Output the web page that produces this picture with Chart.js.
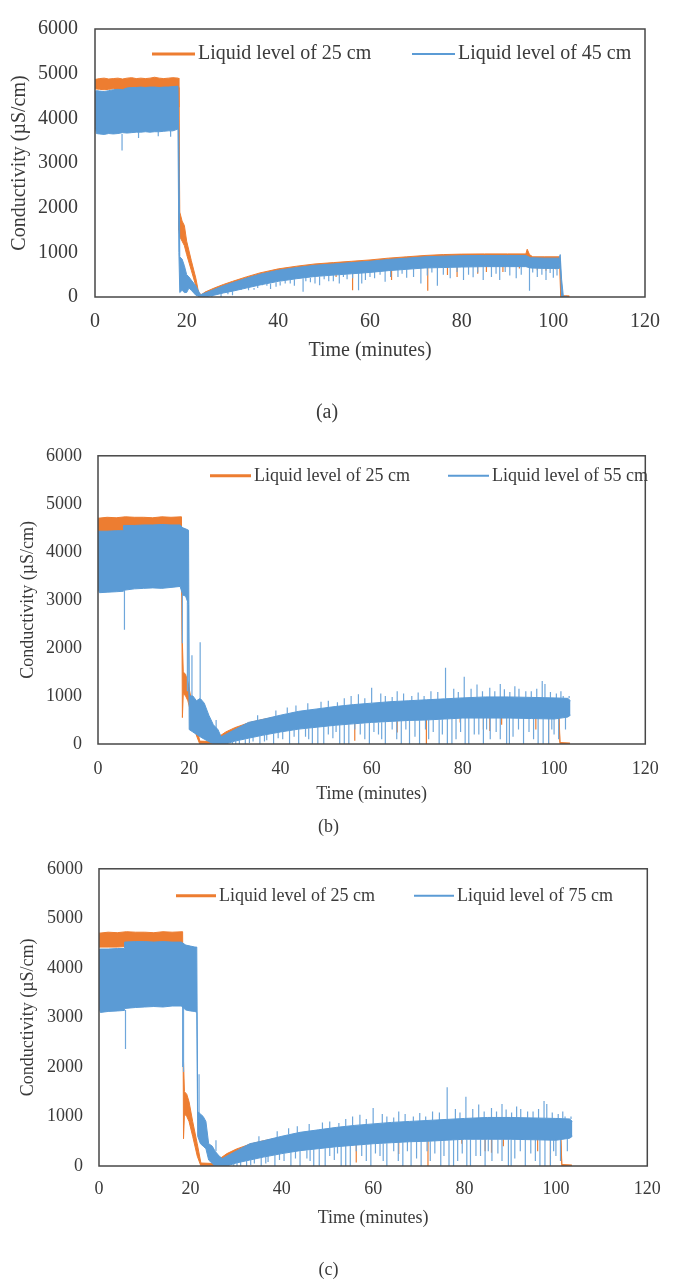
<!DOCTYPE html>
<html>
<head>
<meta charset="utf-8">
<title>Conductivity vs time</title>
<script src="https://cdn.jsdelivr.net/npm/chart.js"></script>
<style>
  html, body { margin: 0; padding: 0; background: #fff; overflow: hidden; }
  .panel { position: absolute; left: 0; width: 673px; }
</style>
</head>
<body>
<div class="panel" style="top:0;height:429px"><canvas id="chartA"></canvas></div>
<div class="panel" style="top:429px;height:413px"><canvas id="chartB"></canvas></div>
<div class="panel" style="top:842px;height:439px"><canvas id="chartC"></canvas></div>
<script>
// ---- (a) 25 cm vs 45 cm : band envelopes (minutes, uS/cm)
const aTime25 = [0, 1, 2, 3, 4, 5, 6, 7, 8, 9, 10, 11, 12, 13, 14, 15, 16, 17, 18.2, 18.3, 18.5, 19.0, 19.5, 20.0, 21.0, 22.0, 22.6, 23.2, 24, 26, 28, 30, 33, 36, 40, 44, 48, 52, 56, 60, 64, 68, 72, 76, 80, 85, 90, 94, 94.3, 94.8, 95.5, 98, 101.4, 101.6, 103.5];
const aHigh25 = [4870, 4890, 4900, 4880, 4890, 4900, 4880, 4900, 4910, 4890, 4900, 4890, 4900, 4920, 4900, 4890, 4900, 4910, 4900, 4250, 1900, 1700, 1600, 1250, 820, 420, 100, 50, 110, 200, 280, 350, 450, 540, 630, 690, 740, 770, 800, 830, 870, 900, 930, 950, 960, 965, 965, 965, 1070, 950, 900, 900, 900, 30, 25];
const aLow25 = [4660, 4650, 4640, 4650, 4660, 4640, 4620, 4650, 4660, 4670, 4660, 4670, 4680, 4670, 4680, 4670, 4680, 4690, 4690, 1500, 1350, 1250, 1150, 950, 600, 250, 0, 0, 40, 130, 210, 280, 370, 450, 530, 590, 640, 680, 710, 740, 780, 810, 840, 860, 870, 880, 880, 880, 880, 870, 830, 830, 830, 0, 0];
const aSpikeTime25 = [44.5, 52.6, 56.2, 64.7, 72.6, 76.9, 79.0, 83.5, 85.4, 89.0, 92.6, 96.5, 98.4, 100.5];
const aSpikeFrom25 = [590, 680, 710, 780, 840, 860, 870, 880, 880, 880, 880, 830, 830, 830];
const aSpikeTo25 = [420, 450, 150, 380, 140, 490, 450, 520, 560, 560, 640, 600, 590, 620];

const aTime45 = [0, 0.3, 1, 2, 3, 4, 5, 6, 7, 8, 9, 10, 11, 12, 13, 14, 15, 16, 17, 18.1, 18.3, 18.5, 19.0, 19.5, 20.0, 20.5, 21.0, 22.0, 23.0, 24, 26, 28, 30, 33, 36, 40, 44, 48, 52, 56, 60, 64, 68, 72, 76, 80, 85, 90, 94, 95, 98, 101.3, 101.5, 101.8, 102.2, 103];
const aHigh45 = [4600, 4620, 4610, 4600, 4620, 4640, 4650, 4640, 4680, 4690, 4690, 4700, 4690, 4700, 4700, 4690, 4700, 4700, 4710, 4720, 3500, 900, 850, 700, 500, 450, 380, 250, 50, 90, 170, 250, 320, 420, 510, 600, 660, 710, 740, 770, 800, 840, 870, 900, 915, 925, 930, 930, 930, 880, 870, 870, 950, 400, 0, 20];
const aLow45 = [3850, 3660, 3650, 3640, 3660, 3650, 3660, 3680, 3670, 3680, 3690, 3690, 3700, 3690, 3700, 3700, 3710, 3720, 3720, 3760, 1000, 100, 150, 100, 100, 200, 150, 40, 0, 0, 40, 90, 130, 200, 270, 350, 410, 460, 490, 520, 550, 590, 620, 650, 660, 670, 680, 680, 680, 650, 640, 640, 800, 0, 0, 0];
const aSpikeTime45 = [5.9, 9.5, 13.8, 16.5, 27.5, 30.0, 31.9, 34.7, 36.5, 38.3, 40.4, 42.6, 45.4, 47.0, 49.0, 51.0, 53.3, 55.0, 57.5, 59.0, 61.0, 63.3, 66.1, 68.0, 71.1, 72.5, 74.7, 77.5, 80.4, 82.5, 84.7, 86.5, 88.3, 90.5, 91.9, 94.8, 96.5, 98.4, 100.0,
  25.5, 29.0, 33.5, 35.5, 37.5, 39.5, 41.5, 43.5, 46.0, 48.0, 50.0, 52.0, 54.2, 56.2, 58.2, 60.0, 62.2, 64.5, 67.0, 69.5, 73.5, 76.0, 79.0, 81.5, 83.5, 87.5, 89.5, 93.0, 95.5, 97.5, 99.3, 100.8];
const aSpikeFrom45 = [3650, 3690, 3700, 3720, 80, 130, 160, 200, 260, 300, 340, 380, 420, 430, 460, 480, 500, 510, 530, 550, 570, 590, 610, 630, 650, 650, 660, 660, 670, 670, 680, 680, 680, 680, 680, 680, 640, 640, 640,
  20, 110, 205, 250, 300, 330, 370, 400, 440, 460, 475, 490, 510, 520, 540, 550, 570, 590, 615, 630, 655, 660, 670, 675, 680, 680, 680, 680, 650, 640, 640, 640];
const aSpikeTo45 = [3280, 3560, 3600, 3590, 0, 40, 190, 160, 250, 180, 260, 300, 116, 330, 263, 350, 300, 400, 153, 380, 420, 340, 450, 430, 300, 480, 250, 420, 380, 440, 380, 450, 380, 480, 420, 140, 450, 380, 430,
  0, 60, 150, 200, 250, 230, 300, 250, 350, 300, 400, 350, 450, 420, 300, 450, 500, 450, 520, 450, 550, 500, 560, 500, 550, 520, 560, 500, 550, 500, 540, 480];

// ---- (b) and (c): the 25 cm run is the same in both panels
const bcTime25 = [0, 2, 4, 6, 8, 10, 12, 14, 16, 18.3, 18.5, 18.7, 19.2, 19.7, 20.5, 21.5, 22.3, 25.2, 26, 28, 30, 33, 36, 40, 44, 48, 52, 56, 60, 64, 68, 72, 76, 80, 85, 90, 95, 100, 101, 101.3, 103.5];
const bcHigh25 = [4700, 4720, 4710, 4730, 4720, 4720, 4710, 4730, 4720, 4730, 2100, 1500, 1450, 1300, 900, 450, 60, 50, 120, 250, 340, 440, 510, 580, 640, 690, 730, 760, 790, 810, 830, 850, 860, 870, 870, 870, 860, 850, 850, 30, 20];
const bcLow25 = [4420, 4420, 4420, 4430, 4430, 4430, 4430, 4430, 4430, 4430, 550, 1050, 1000, 900, 600, 200, 0, 0, 40, 120, 200, 290, 360, 430, 480, 520, 550, 570, 590, 600, 610, 620, 630, 640, 640, 640, 630, 620, 620, 0, 0];
const bcSpikeTime25 = [43.4, 56.3, 65.6, 72.0, 79.4, 84.5, 85.9, 88.5, 96.0, 98.8];
const bcSpikeFrom25 = [480, 570, 600, 620, 640, 640, 640, 640, 630, 620];
const bcSpikeTo25 = [380, 70, 240, 0, 450, 300, 270, 400, 300, 0];

// start of the 55 cm run (b) and the 75 cm run (c)
const bHeadTime55 = [0, 0.3, 2, 4, 5.5, 5.6, 8, 10, 12, 14, 16, 18.0, 18.6, 19.2, 19.85, 20.0, 20.8, 21.6, 22.4, 23.3, 24.3, 25.3, 26.3];
const bHeadHigh55 = [4420, 4430, 4430, 4440, 4440, 4550, 4550, 4560, 4560, 4570, 4560, 4560, 4500, 4480, 4450, 1000, 1000, 900, 950, 850, 600, 400, 300];
const bHeadLow55 = [3250, 3150, 3160, 3170, 3180, 3200, 3230, 3240, 3250, 3240, 3260, 3280, 3100, 3080, 2900, 300, 250, 200, 150, 100, 50, 0, 0];
const bHeadSpikeTime55 = [5.8, 18.5, 19.6, 20.6, 22.4, 25.9];
const bHeadSpikeFrom55 = [3200, 3100, 2950, 1000, 950, 300];
const bHeadSpikeTo55 = [2380, 2100, 1100, 1850, 2120, 500];

const cHeadTime75 = [0, 0.3, 2, 4, 5.5, 5.6, 8, 10, 12, 14, 16, 18.0, 19.0, 20.0, 21.0, 21.4, 21.6, 22.2, 22.8, 23.4, 24.0, 24.8, 25.4, 26.3];
const cHeadHigh75 = [4370, 4380, 4380, 4390, 4390, 4520, 4530, 4530, 4520, 4530, 4520, 4520, 4460, 4440, 4420, 4420, 1100, 1050, 1000, 900, 450, 400, 300, 200];
const cHeadLow75 = [3200, 3100, 3120, 3130, 3140, 3180, 3200, 3210, 3220, 3210, 3230, 3230, 3150, 3130, 3120, 3100, 600, 450, 400, 350, 120, 50, 0, 0];
const cHeadSpikeTime75 = [5.8, 18.3, 18.5, 21.9, 25.6];
const cHeadSpikeFrom75 = [3150, 3230, 3230, 1000, 300];
const cHeadSpikeTo75 = [2360, 2000, 1900, 1850, 520];

// rest of the deeper run, shared by (b) and (c)
const bcTailTime = [27.0, 28, 30, 33, 36, 40, 44, 48, 52, 56, 60, 64, 68, 72, 76, 80, 85, 90, 95, 100, 103, 103.6];
const bcTailHigh = [150, 200, 300, 450, 510, 600, 680, 730, 780, 820, 850, 880, 900, 920, 940, 960, 980, 980, 970, 960, 950, 900];
const bcTailLow = [0, 0, 60, 120, 180, 250, 310, 350, 390, 420, 450, 470, 490, 500, 520, 540, 540, 540, 530, 520, 560, 600];
const bcTailSpikeTime = [43.4, 48.9, 54.0, 57.1, 60.0, 63.0, 65.6, 70.2, 73.0, 76.2, 78.0, 80.3, 83.1, 85.9, 89.1, 91.4, 92.3, 95.0, 97.4, 98.0, 100.5, 102.0,
  35.0, 39.0, 41.5, 46.0, 50.5, 52.5, 55.5, 58.5, 62.0, 64.5, 67.0, 68.8, 71.5, 74.5, 79.0, 81.8, 84.3, 87.0, 88.2, 90.3, 93.8, 96.2, 99.2, 101.5, 103.3,
  29.5, 31.0, 32.3, 34.0, 35.5, 37.0, 38.5, 40.5, 42.0, 44.0, 45.5, 47.0, 49.5, 51.5, 53.0, 55.0, 58.5, 61.5, 63.0, 66.5, 68.3, 69.5, 73.5, 74.8, 76.6, 77.6, 81.3, 82.5, 84.5, 86.0, 87.3, 89.6, 91.0, 93.3, 94.5, 96.5, 98.8, 100.0,
  30.2, 33.2, 36.5, 39.5, 43.0, 46.2, 48.2, 50.5, 52.2, 54.0, 56.3, 57.5, 59.5, 60.5, 62.2, 64.5, 65.5, 67.5, 70.5, 71.8, 72.5, 75.5, 78.5, 79.5, 80.5, 83.5, 85.2, 88.2, 90.2, 92.2, 95.5, 97.6, 99.5, 101.0, 102.5];
const bcTailSpikeFrom = [670, 740, 800, 830, 850, 870, 890, 910, 925, 940, 950, 960, 970, 980, 980, 980, 975, 970, 965, 965, 960, 955,
  480, 560, 640, 700, 760, 780, 815, 835, 865, 880, 895, 900, 915, 930, 955, 962, 975, 980, 980, 980, 975, 968, 962, 958, 950,
  40, 80, 100, 140, 170, 200, 220, 250, 280, 310, 320, 340, 360, 380, 400, 410, 430, 450, 460, 480, 490, 495, 505, 510, 520, 525, 540, 540, 540, 540, 540, 540, 540, 535, 535, 530, 525, 520,
  60, 120, 185, 240, 300, 330, 350, 370, 390, 405, 420, 425, 445, 450, 455, 470, 475, 485, 497, 500, 502, 515, 530, 535, 540, 540, 540, 540, 540, 538, 530, 528, 522, 525, 550];
const bcTailSpikeTo = [800, 880, 950, 1035, 1170, 1000, 1100, 1070, 1100, 1590, 1150, 1400, 1240, 1170, 1140, 1200, 1150, 1100, 1310, 1250, 1050, 1000,
  600, 700, 760, 850, 900, 870, 1000, 950, 1050, 980, 1050, 1000, 1000, 1080, 1080, 1150, 1100, 1100, 1250, 1080, 1100, 1150, 1080, 1100, 1000,
  0, 0, 0, 50, 0, 80, 0, 100, 0, 0, 150, 0, 0, 120, 0, 0, 100, 200, 0, 0, 0, 150, 250, 0, 0, 0, 0, 200, 0, 100, 250, 0, 150, 0, 250, 0, 0, 200,
  0, 20, 50, 120, 150, 100, 0, 200, 250, 0, 300, 200, 0, 250, 100, 300, 100, 300, 0, 300, 100, 200, 100, 250, 0, 200, 300, 100, 0, 300, 100, 0, 300, 100, 300];

const X_TICKS_MAX = 120;
const Y_TICKS_MAX = 6000;

const ORANGE = "#ED7D31";
const BLUE = "#5B9BD5";
const BLUE_THIN = "#6FA7DB";
const TEXT = "#3a3a3a";
const SERIF = '"Liberation Serif", "Times New Roman", serif';

const pts = (ts, vs) => ts.map((t, i) => ({ x: t, y: vs[i] }));

// each spike is a short vertical stroke, separated from the next by a gap
function spikePts(ts, from, to) {
  const out = [];
  ts.forEach((t, i) => out.push({ x: t, y: from[i] }, { x: t, y: to[i] }, { x: t, y: null }));
  return out;
}

function series(label, color, thin, order, legendWidth, time, high, low, spikes) {
  return [
    { label: label + " (low)", data: pts(time, low), borderColor: color, borderWidth: 1, fill: false, order },
    { label, showInLegend: true, legendWidth, data: pts(time, high), borderColor: color,
      backgroundColor: color, borderWidth: 1, fill: "-1", order },
    { label: label + " (spikes)", data: spikePts(...spikes), borderColor: thin, borderWidth: 1.2, fill: false, order },
  ];
}

const frameLegend = {
  id: "frameLegend",
  afterDatasetsDraw(chart, args, opts) {
    const { ctx, chartArea: a } = chart;
    ctx.save();
    ctx.strokeStyle = "#474747";
    ctx.lineWidth = 1.5;
    ctx.strokeRect(a.left, a.top, a.right - a.left, a.bottom - a.top);
    ctx.font = `${opts.size}px ${SERIF}`;
    ctx.textBaseline = "middle";
    ctx.fillStyle = TEXT;
    chart.data.datasets.filter((d) => d.showInLegend).forEach((d, i) => {
      const x = a.left + opts.x[i];
      const y = a.top + opts.y;
      ctx.strokeStyle = d.borderColor;
      ctx.lineWidth = d.legendWidth;
      ctx.beginPath();
      ctx.moveTo(x, y);
      ctx.lineTo(x + opts.sample, y);
      ctx.stroke();
      ctx.fillText(d.label, x + opts.sample + 3, y);
    });
    ctx.restore();
  },
};

function drawPanel(canvasId, p) {
  const font = { family: SERIF, size: p.size, lineHeight: 1.2 };
  return new Chart(document.getElementById(canvasId), {
    type: "line",
    data: { datasets: p.datasets },
    options: {
      responsive: true,
      maintainAspectRatio: false,
      animation: false,
      events: [],
      layout: { autoPadding: false, padding: { top: p.padTop, right: p.padRight, left: 0, bottom: 0 } },
      elements: { point: { radius: 0, hitRadius: 0 }, line: { tension: 0 } },
      scales: {
        x: {
          type: "linear", min: 0, max: X_TICKS_MAX,
          grid: { display: false, drawTicks: false }, border: { display: false },
          ticks: { stepSize: 20, padding: p.xTickPad, color: TEXT, font, callback: (v) => String(v) },
          title: { display: true, text: "Time (minutes)", color: TEXT, font, padding: { top: 0, bottom: p.xTitlePad } },
          afterFit: (s) => { s.height = p.xAxisH; },
        },
        y: {
          min: 0, max: Y_TICKS_MAX,
          grid: { display: false, drawTicks: false }, border: { display: false },
          ticks: { stepSize: 1000, padding: p.yTickPad, color: TEXT, font, callback: (v) => String(v) },
          title: { display: true, text: "Conductivity (µS/cm)", color: TEXT, font, padding: { top: p.yTitlePad, bottom: 0 } },
          afterFit: (s) => { s.width = p.yAxisW; },
        },
      },
      plugins: {
        legend: { display: false },
        tooltip: { enabled: false },
        title: {
          display: true, position: "bottom", text: p.caption, color: TEXT,
          font: { family: SERIF, size: p.size, weight: "normal", lineHeight: 1.2 },
          padding: { top: p.capTop, bottom: p.capBottom },
        },
        frameLegend: { x: p.legendX, y: p.legendY, sample: p.sample, size: p.size },
      },
    },
    plugins: [frameLegend],
  });
}

drawPanel("chartA", {
  datasets: [
    ...series("Liquid level of 25 cm", ORANGE, ORANGE, 1, 3, aTime25, aHigh25, aLow25, [aSpikeTime25, aSpikeFrom25, aSpikeTo25]),
    ...series("Liquid level of 45 cm", BLUE, BLUE_THIN, 0, 2, aTime45, aHigh45, aLow45, [aSpikeTime45, aSpikeFrom45, aSpikeTo45]),
  ],
  caption: "(a)", size: 20,
  padTop: 23, padRight: 19, yAxisW: 95, xAxisH: 68,
  xTickPad: 13, xTitlePad: 2, yTickPad: 17, yTitlePad: 8, capTop: 36, capBottom: 4,
  legendX: [57, 317], legendY: 25, sample: 43,
});

drawPanel("chartB", {
  datasets: [
    ...series("Liquid level of 25 cm", ORANGE, ORANGE, 1, 3, bcTime25, bcHigh25, bcLow25, [bcSpikeTime25, bcSpikeFrom25, bcSpikeTo25]),
    ...series("Liquid level of 55 cm", BLUE, BLUE_THIN, 0, 2,
      [...bHeadTime55, ...bcTailTime], [...bHeadHigh55, ...bcTailHigh], [...bHeadLow55, ...bcTailLow],
      [[...bHeadSpikeTime55, ...bcTailSpikeTime], [...bHeadSpikeFrom55, ...bcTailSpikeFrom], [...bHeadSpikeTo55, ...bcTailSpikeTo]]),
  ],
  caption: "(b)", size: 18,
  padTop: 26, padRight: 16, yAxisW: 98, xAxisH: 62,
  xTickPad: 14.2, xTitlePad: 1.2, yTickPad: 16, yTitlePad: 17.2, capTop: 10.2, capBottom: 4.2,
  legendX: [112, 350], legendY: 20, sample: 41,
});

drawPanel("chartC", {
  datasets: [
    ...series("Liquid level of 25 cm", ORANGE, ORANGE, 1, 3, bcTime25, bcHigh25, bcLow25, [bcSpikeTime25, bcSpikeFrom25, bcSpikeTo25]),
    ...series("Liquid level of 75 cm", BLUE, BLUE_THIN, 0, 2,
      [...cHeadTime75, ...bcTailTime], [...cHeadHigh75, ...bcTailHigh], [...cHeadLow75, ...bcTailLow],
      [[...cHeadSpikeTime75, ...bcTailSpikeTime], [...cHeadSpikeFrom75, ...bcTailSpikeFrom], [...cHeadSpikeTo75, ...bcTailSpikeTo]]),
  ],
  caption: "(c)", size: 18,
  padTop: 24, padRight: 16, yAxisW: 99, xAxisH: 64,
  xTickPad: 12.2, xTitlePad: 1.2, yTickPad: 16, yTitlePad: 17.2, capTop: 29.2, capBottom: 0.2,
  legendX: [77, 315], legendY: 27, sample: 40,
});
</script>
</body>
</html>
